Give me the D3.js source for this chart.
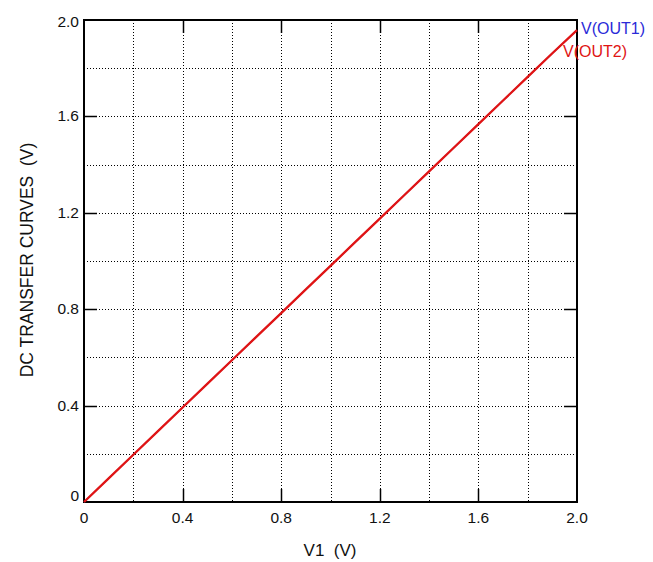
<!DOCTYPE html>
<html><head><meta charset="utf-8">
<script src="https://cdn.jsdelivr.net/npm/d3@7"></script>
<style>body{margin:0;background:#fff;}svg{display:block;font-family:"Liberation Sans",Arial,sans-serif;}</style>
</head><body>
<svg id="c" width="653" height="562"></svg>
<script>
const v1 = [0,0.1,0.2,0.3,0.4,0.5,0.6,0.7,0.8,0.9,1.0,1.1,1.2,1.3,1.4,1.5,1.6,1.7,1.8,1.9,2.0];
const vout1 = [0,0.098,0.196,0.294,0.392,0.490,0.588,0.686,0.784,0.882,0.980,1.078,1.176,1.274,1.372,1.470,1.568,1.666,1.764,1.862,1.958];
const vout2 = [0,0.098,0.196,0.294,0.392,0.490,0.588,0.686,0.784,0.882,0.980,1.078,1.176,1.274,1.372,1.470,1.568,1.666,1.764,1.862,1.958];
const xTicks = [0,0.4,0.8,1.2,1.6,2.0];
const yTicks = [0,0.4,0.8,1.2,1.6,2.0];
const gridVals = [0.2,0.4,0.6,0.8,1.0,1.2,1.4,1.6,1.8];
const seriesNames = ["V(OUT1)","V(OUT2)"];

const L=84,R=577,T=20,B=502;
const svg=d3.select("#c");
const x=d3.scaleLinear().domain([0,2]).range([L,R]);
const y=d3.scaleLinear().domain([0,2]).range([B,T]);

// grid
const g=svg.append("g");
g.selectAll(".gx").data(gridVals).enter().append("line")
 .attr("x1",d=>Math.round(x(d))+0.5).attr("x2",d=>Math.round(x(d))+0.5)
 .attr("y1",T).attr("y2",B).attr("stroke","#000").attr("stroke-width",1).attr("stroke-dasharray","1,2");
g.selectAll(".gy").data(gridVals).enter().append("line")
 .attr("y1",d=>Math.round(y(d))+0.5).attr("y2",d=>Math.round(y(d))+0.5)
 .attr("x1",L).attr("x2",R).attr("stroke","#000").attr("stroke-width",1).attr("stroke-dasharray","1,2");

// major ticks on all four sides (inward)
const tl=13;
xTicks.slice(1,-1).forEach(d=>{
  const px=Math.round(x(d))+0.5;
  svg.append("line").attr("x1",px).attr("x2",px).attr("y1",B).attr("y2",B-tl).attr("stroke","#000").attr("stroke-width",1.5);
  svg.append("line").attr("x1",px).attr("x2",px).attr("y1",T).attr("y2",T+tl).attr("stroke","#000").attr("stroke-width",1.5);
});
yTicks.slice(1,-1).forEach(d=>{
  const py=Math.round(y(d))+0.5;
  svg.append("line").attr("y1",py).attr("y2",py).attr("x1",L).attr("x2",L+tl).attr("stroke","#000").attr("stroke-width",1.5);
  svg.append("line").attr("y1",py).attr("y2",py).attr("x1",R).attr("x2",R-tl).attr("stroke","#000").attr("stroke-width",1.5);
});

// frame
svg.append("rect").attr("x",L).attr("y",T).attr("width",R-L).attr("height",B-T)
 .attr("fill","none").attr("stroke","#000").attr("stroke-width",2);

// tick labels
svg.selectAll(".xl").data(xTicks).enter().append("text")
 .attr("x",d=>x(d)).attr("y",523).attr("text-anchor","middle")
 .attr("font-size",15.5).attr("fill","#111").text(d=>d===0?"0":d.toFixed(1));
svg.selectAll(".yl").data(yTicks).enter().append("text")
 .attr("x",79).attr("y",d=>y(d)+5+(d===0?-6:(d===2?2:0))).attr("text-anchor","end")
 .attr("font-size",15.5).attr("fill","#111").text(d=>d===0?"0":d.toFixed(1));

// axis titles
svg.append("text").attr("x",330).attr("y",556).attr("text-anchor","middle")
 .attr("font-size",17).attr("fill","#111").style("white-space","pre").text("V1  (V)");
svg.append("text").attr("transform","translate(33,260) rotate(-90)").attr("text-anchor","middle")
 .attr("font-size",17.5).attr("fill","#111").style("white-space","pre").text("DC TRANSFER CURVES  (V)");

// lines
const line=d3.line().x(d=>x(d[0])).y(d=>y(d[1]));
const colors=["#2a2ad8","#e01414"];
const widths=[1.2,2.3];
[vout1,vout2].forEach((s,i)=>{
  svg.append("path").datum(v1.map((v,j)=>[v,s[j]])).attr("d",line)
   .attr("fill","none").attr("stroke",colors[i]).attr("stroke-width",widths[i]);
});

// series labels
svg.append("text").attr("x",581).attr("y",34).attr("font-size",16).attr("fill",colors[0]).text(seriesNames[0]);
svg.append("text").attr("x",563).attr("y",57).attr("font-size",16).attr("fill",colors[1]).text(seriesNames[1]);
</script>
</body></html>
